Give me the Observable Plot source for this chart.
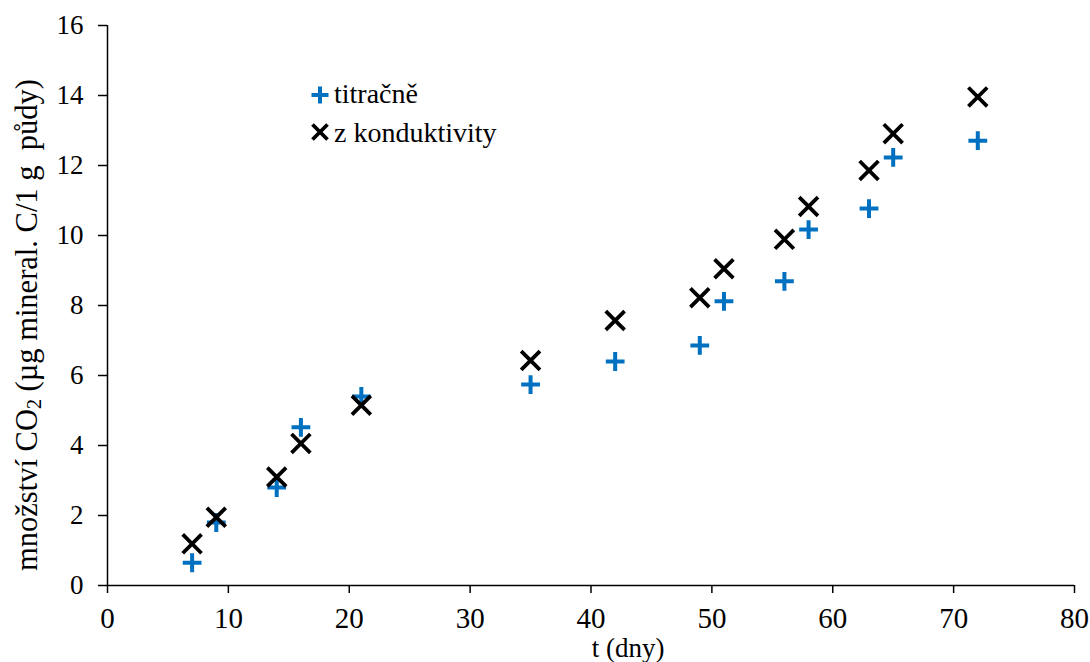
<!DOCTYPE html>
<html>
<head>
<meta charset="utf-8">
<script src="https://cdn.jsdelivr.net/npm/d3@7"></script>
<script src="https://cdn.jsdelivr.net/npm/@observablehq/plot@0.6"></script>
<style>
  html, body { margin: 0; padding: 0; background: white; }
  #wrap { position: relative; width: 1090px; height: 662px; }
</style>
</head>
<body>
<div id="wrap"></div>
<script>
// ---- data ----
const days = [7, 9, 14, 16, 21, 35, 42, 49, 51, 56, 58, 63, 65, 72];
const titracne = [0.65, 1.8, 2.8, 4.52, 5.4, 5.74, 6.4, 6.86, 8.12, 8.69, 10.17, 10.77, 12.23, 12.71];
const konduktivity = [1.19, 1.95, 3.1, 4.06, 5.15, 6.43, 7.57, 8.22, 9.05, 9.89, 10.83, 11.86, 12.91, 13.96];
const seriesNames = ["titračně", "z konduktivity"];
const xTicks = [0, 10, 20, 30, 40, 50, 60, 70, 80];
const yTicks = [0, 2, 4, 6, 8, 10, 12, 14, 16];
const xLabel = "t (dny)";
const blue = "#0070C0";
const FONT = "Liberation Serif, Times New Roman, serif";

const tData = days.map((d, i) => ({x: d, y: titracne[i]}));
const kData = days.map((d, i) => ({x: d, y: konduktivity[i]}));

const chart = Plot.plot({
  width: 1090,
  height: 662,
  marginLeft: 107,
  marginRight: 16,
  marginTop: 25,
  marginBottom: 77,
  style: {fontFamily: FONT, fontSize: "28px", color: "black", background: "white", overflow: "visible"},
  x: {domain: [0, 80]},
  y: {domain: [0, 16]},
  marks: [
    Plot.axisX({ticks: xTicks, tickSize: 8, tickPadding: 14, label: null, strokeWidth: 1.5, fontSize: 29, fontFamily: FONT, tickFormat: d => String(d)}),
    Plot.axisY({ticks: yTicks, tickSize: 9, tickPadding: 15, label: null, strokeWidth: 1.5, fontSize: 27, fontFamily: FONT, tickFormat: d => String(d)}),
    Plot.ruleY([0], {stroke: "black", strokeWidth: 1.5}),
    Plot.ruleX([0], {stroke: "black", strokeWidth: 1.5}),
    Plot.dot(tData, {x: "x", y: "y", symbol: "plus", r: 6.1, stroke: blue, strokeWidth: 4}),
    Plot.dot(kData, {x: "x", y: "y", symbol: "times", r: 8.6, stroke: "black", strokeWidth: 3.8}),
    Plot.text([xLabel], {text: d => d, frameAnchor: "bottom", dx: 37, dy: 63, fontSize: 27, fontFamily: FONT, fill: "black", lineAnchor: "middle"})
  ]
});

const wrap = document.getElementById("wrap");
wrap.appendChild(chart);
const svg = d3.select(chart);

// y-axis label with subscript
const yl = svg.append("text")
  .attr("transform", "translate(30, 325) rotate(-90)")
  .attr("text-anchor", "middle")
  .attr("dominant-baseline", "middle")
  .attr("font-family", FONT)
  .style("font-size", "30.5px")
  .style("white-space", "pre")
  .attr("fill", "black");
yl.append("tspan").text("množství CO");
yl.append("tspan").style("font-size", "20px").attr("dy", 6).text("2");
yl.append("tspan").attr("dy", -6).text(" (µg mineral. C/1 g  půdy)");

// legend (inside plot area)
const leg = svg.append("g").attr("class", "legend").attr("font-family", FONT);
const items = [
  {name: seriesNames[0], base: 103, d: "M320,86.5V103.5M311.5,95H328.5", color: blue, sw: 4},
  {name: seriesNames[1], base: 142, d: "M312.5,124.5L327.5,139.5M327.5,124.5L312.5,139.5", color: "black", sw: 3.8}
];
items.forEach(it => {
  leg.append("path").attr("d", it.d).attr("stroke", it.color).attr("stroke-width", it.sw).attr("fill", "none");
  leg.append("text").attr("x", 334).attr("y", it.base).attr("text-anchor", "start")
    .style("font-size", "28px").attr("fill", "black").text(it.name);
});
</script>
</body>
</html>
